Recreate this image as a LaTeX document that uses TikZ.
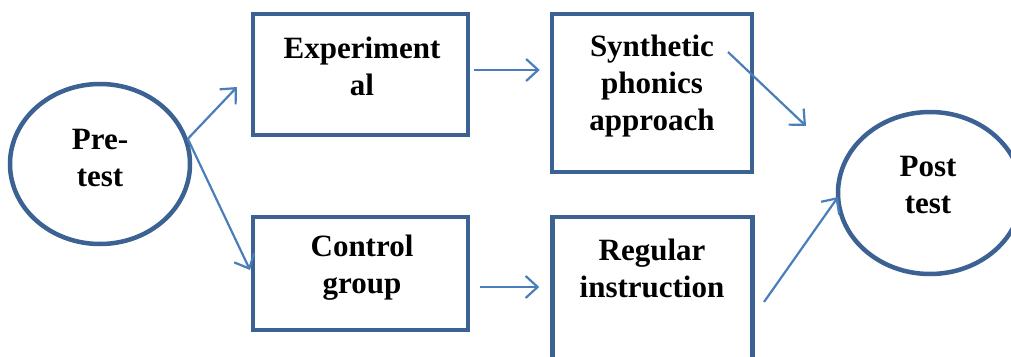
\documentclass[tikz,border=0pt]{standalone}
\usepackage{fontspec}
\setmainfont{Liberation Serif}
\usetikzlibrary{arrows.meta,shapes.geometric}
\definecolor{boxblue}{HTML}{3C6193}
\definecolor{arrowblue}{HTML}{4A7EBB}
\tikzset{
  stage/.style={draw=boxblue, line width=4.5pt, rectangle, inner sep=0pt},
  testnode/.style={draw=boxblue, line width=4.5pt, ellipse, inner sep=0pt},
  lbl/.style={font=\bfseries\fontsize{31}{37}\selectfont, align=center, inner sep=0pt},
  flow/.style={draw=arrowblue, line width=2.2pt, -{Straight Barb[length=12pt,width=22pt]}}
}
\begin{document}
\begin{tikzpicture}[x=1pt,y=-1pt]
	\path[use as bounding box] (0,0) rectangle (1011,356);
	\clip (0,0) rectangle (1011,356);
	% tests
	\node[testnode, minimum width=180, minimum height=160] (pre) at (100,164) {};
	\node[testnode, minimum width=184, minimum height=162] (post) at (930,193) {};
	\node[lbl] (pretxt) at (100,158) {Pre-\\test};
	\node[lbl] (posttxt) at (928,185) {Post\\test};
	% groups and treatments
	\node[stage, minimum width=215, minimum height=121] (exp) at (360.5,74.5) {};
	\node[stage, minimum width=215, minimum height=113] (ctrl) at (360.5,273.5) {};
	\node[stage, minimum width=200, minimum height=158] (syn) at (652,93) {};
	\node[stage, minimum width=200, minimum height=163] (reg) at (652.5,298.5) {};
	\node[lbl] (exptxt) at (362,66) {Experiment\\al};
	\node[lbl] (ctrltxt) at (362,268) {Control\\group};
	\node[lbl] (syntxt) at (652,86) {Synthetic\\phonics\\approach};
	\node[lbl] (regtxt) at (652,268) {Regular\\instruction};
	% free arrow ends
	\coordinate (expin) at (237,87);
	\coordinate (ctrlin) at (250,270);
	\coordinate (synout) at (728,52);
	\coordinate (postin) at (806,126);
	\coordinate (regout) at (764,302);
	\coordinate (postleft) at (838,197);
	% arrows
	\draw[flow] (pre.16) -- (expin);
	\draw[flow] (pre.16) -- (ctrlin);
	\draw[flow, shorten <=4pt, shorten >=10pt] (exp.east |- 0,70) -- (syn.west |- 0,70);
	\draw[flow, shorten <=10pt, shorten >=11pt] (ctrl.east |- 0,287) -- (reg.west |- 0,287);
	\draw[flow] (synout) -- (postin);
	\draw[flow] (regout) -- (postleft);
\end{tikzpicture}
\end{document}
